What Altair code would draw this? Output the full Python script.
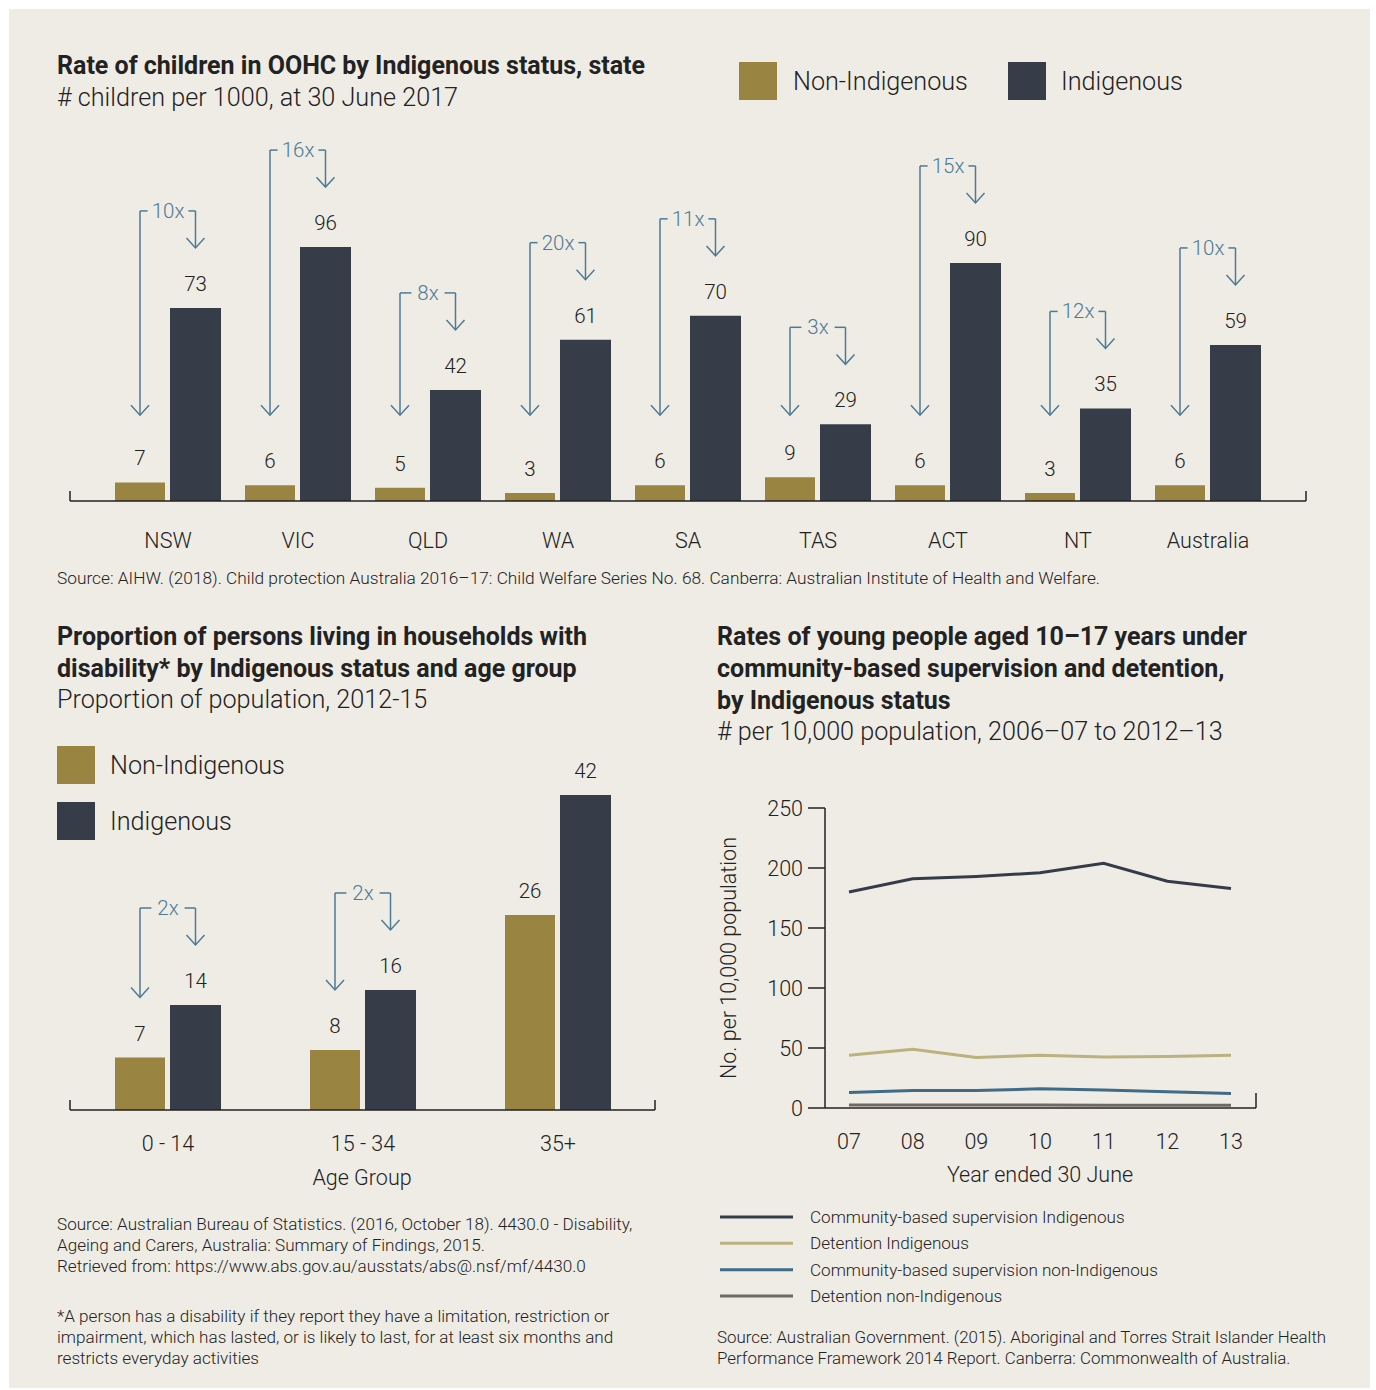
import altair as alt
import pandas as pd

# ------------------------------------------------------------------ data
STATES = ["NSW", "VIC", "QLD", "WA", "SA", "TAS", "ACT", "NT", "Australia"]
OOHC_NON_INDIGENOUS = [7, 6, 5, 3, 6, 9, 6, 3, 6]
OOHC_INDIGENOUS = [73, 96, 42, 61, 70, 29, 90, 35, 59]
OOHC_RATIO = ["10x", "16x", "8x", "20x", "11x", "3x", "15x", "12x", "10x"]

AGE_GROUPS = ["0 - 14", "15 - 34", "35+"]
DIS_NON_INDIGENOUS = [7, 8, 26]
DIS_INDIGENOUS = [14, 16, 42]
DIS_RATIO = ["2x", "2x", ""]

YEARS = [2007, 2008, 2009, 2010, 2011, 2012, 2013]
YEAR_LABELS = ["07", "08", "09", "10", "11", "12", "13"]
LINE_SERIES = [
    "Community-based supervision Indigenous",
    "Detention Indigenous",
    "Community-based supervision non-Indigenous",
    "Detention non-Indigenous",
]
CBS_INDIGENOUS = [180, 191, 193, 196, 204, 189, 183]
DET_INDIGENOUS = [44, 49, 42, 44, 42.5, 43, 44]
CBS_NON_INDIGENOUS = [13, 14.5, 14.5, 16, 15, 13.5, 12]
DET_NON_INDIGENOUS = [2.5, 2.5, 2.4, 2.4, 2.3, 2.3, 2.3]
Y_TICKS = [0, 50, 100, 150, 200, 250]

SERIES = ["Non-Indigenous", "Indigenous"]

# ------------------------------------------------------------------ style
BG = "#efece5"
GOLD = "#9a8441"
DARK = "#363d49"
BLUE = "#4d7b95"
INK = "#222222"
LINE_COLORS = ["#343c4a", "#bcb27f", "#3f6b87", "#6e6961"]
FONT = "Roboto"
ONE = pd.DataFrame({"k": [0]})

T_SIZE = 25      # bold titles
S_SIZE = 25.2    # subtitles / legends
B_SIZE = 21.5    # axis labels
N_SIZE = 17.1    # notes / sources


def text(s, x, y, size, weight=300, color=INK, align="left",
         baseline="alphabetic", angle=None, line_height=None):
    kw = dict(text=s, fontSize=size, fontWeight=weight, color=color,
              align=align, baseline=baseline, font=FONT)
    if line_height is not None:
        kw["lineHeight"] = line_height
    if angle is not None:
        kw["angle"] = angle
    return alt.Chart(ONE).mark_text(**kw).encode(x=alt.value(x), y=alt.value(y))


def square(x, y, color, s=38):
    return alt.Chart(ONE).mark_rect(color=color).encode(
        x=alt.value(x), x2=alt.value(x + s), y=alt.value(y), y2=alt.value(y + s))


def bar_panel(cats, non, ind, ratios, x0, x1, c0, step, base_px, k, y_max,
              label_y, left_tip_fixed=None):
    n = len(cats)
    xdom = [-(c0 - x0) / step, (n - 1) + (x1 - (c0 + (n - 1) * step)) / step]
    xs = alt.Scale(domain=xdom, range=[x0, x1], nice=False, zero=False)
    ys = alt.Scale(domain=[0, y_max], range=[base_px, base_px - y_max * k],
                   nice=False, zero=False)

    def u(px):
        return px / step

    def v(px):
        return px / k

    rows = []
    for i, (c, a, b) in enumerate(zip(cats, non, ind)):
        rows.append(dict(cat=c, series=SERIES[0], x=i + u(-53), x2=i + u(-3),
                         xc=i + u(-28), val=a, zero=0))
        rows.append(dict(cat=c, series=SERIES[1], x=i + u(2), x2=i + u(53),
                         xc=i + u(27.5), val=b, zero=0))
    bdf = pd.DataFrame(rows)

    X = lambda f: alt.X(f, scale=xs, axis=None)
    Y = lambda f: alt.Y(f, scale=ys, axis=None)

    bars = alt.Chart(bdf).mark_rect().encode(
        x=X("x:Q"), x2="x2", y=Y("val:Q"), y2="zero",
        color=alt.Color("series:N", scale=alt.Scale(domain=SERIES, range=[GOLD, DARK]),
                        legend=None))
    vals = alt.Chart(bdf).mark_text(fontSize=20.5, fontWeight=300, font=FONT, color=INK,
                                    baseline="alphabetic", dy=-17).encode(
        x=X("xc:Q"), y=Y("val:Q"), text="val:Q")

    vl, hs, tips, labs = [], [], [], []
    for i, (a, b, r) in enumerate(zip(non, ind, ratios)):
        if not r:
            continue
        xl, xr = i + u(-28), i + u(27.5)
        rt = b + v(60)
        top = rt + v(37)
        lt = left_tip_fixed if left_tip_fixed is not None else a + v(60)
        gap = u(9 + 3.8 * len(r))
        vl += [dict(x=xl, y=top, y2=lt), dict(x=xr, y=top, y2=rt)]
        hs += [dict(x=xl, x2=i - gap, y=top), dict(x=i + gap, x2=xr, y=top)]
        tips += [dict(x=xl, y=lt), dict(x=xr, y=rt)]
        labs.append(dict(x=i, y=top, t=r))

    vrule = alt.Chart(pd.DataFrame(vl)).mark_rule(color=BLUE, strokeWidth=1.5).encode(
        x=X("x:Q"), y=Y("y:Q"), y2="y2")
    hrule = alt.Chart(pd.DataFrame(hs)).mark_rule(color=BLUE, strokeWidth=1.5).encode(
        x=X("x:Q"), x2="x2", y=Y("y:Q"))
    heads = alt.Chart(pd.DataFrame(tips)).mark_point(
        shape="M -1 -1.1 L 0 0 L 1 -1.1", size=324, filled=False, color=BLUE,
        strokeWidth=1.5, opacity=1).encode(x=X("x:Q"), y=Y("y:Q"))
    rlab = alt.Chart(pd.DataFrame(labs)).mark_text(
        fontSize=20.5, fontWeight=300, font=FONT, color=BLUE, baseline="alphabetic",
        dy=7).encode(x=X("x:Q"), y=Y("y:Q"), text="t:N")

    adf = pd.DataFrame({"x": [xdom[0]], "x2": [xdom[1]], "y": [0]})
    axis = alt.Chart(adf).mark_rule(color=INK, strokeWidth=1.5).encode(
        x=X("x:Q"), x2="x2", y=Y("y:Q"))
    edf = pd.DataFrame({"x": xdom, "y": [0, 0], "y2": [v(10), v(10)]})
    ends = alt.Chart(edf).mark_rule(color=INK, strokeWidth=1.5).encode(
        x=X("x:Q"), y=Y("y:Q"), y2="y2")
    cdf = pd.DataFrame({"cat": cats, "i": list(range(n))})
    clab = alt.Chart(cdf).mark_text(fontSize=B_SIZE, fontWeight=300, font=FONT, color=INK,
                                    baseline="alphabetic").encode(
        x=X("i:Q"), y=alt.value(label_y), text="cat:N")

    return alt.layer(bars, vals, vrule, hrule, heads, rlab, axis, ends, clab)


top_panel = bar_panel(STATES, OOHC_NON_INDIGENOUS, OOHC_INDIGENOUS, OOHC_RATIO,
                      70, 1306, 168, 130, 501, 2.645, 140, 547.6,
                      left_tip_fixed=max(OOHC_NON_INDIGENOUS) + 62 / 2.645)
age_panel = bar_panel(AGE_GROUPS, DIS_NON_INDIGENOUS, DIS_INDIGENOUS, DIS_RATIO,
                      70, 655, 168, 195, 1110, 7.5, 50, 1150.6)

# ------------------------------------------------------------------ line panel
LX_DOM = [2007 - 24 / 63.67, 2013 + 25 / 63.67]
lx = alt.Scale(domain=LX_DOM, range=[825, 1256], nice=False, zero=False)
ly = alt.Scale(domain=[0, 250], range=[1108, 808], nice=False, zero=False)
line_color = alt.Scale(domain=LINE_SERIES, range=LINE_COLORS)

long_rows = []
for s, vals in zip(LINE_SERIES, [CBS_INDIGENOUS, DET_INDIGENOUS, CBS_NON_INDIGENOUS,
                                 DET_NON_INDIGENOUS]):
    for yr, val in zip(YEARS, vals):
        long_rows.append(dict(year=yr, value=val, series=s))
ldf = pd.DataFrame(long_rows)

lines = alt.Chart(ldf).mark_line(strokeWidth=3).encode(
    x=alt.X("year:Q", scale=lx, axis=None),
    y=alt.Y("value:Q", scale=ly, axis=None),
    color=alt.Color("series:N", scale=line_color, legend=None),
    detail="series:N")
yaxis = alt.Chart(pd.DataFrame({"x": [LX_DOM[0]], "y": [0], "y2": [250]})).mark_rule(
    color=INK, strokeWidth=1.5).encode(
    x=alt.X("x:Q", scale=lx, axis=None), y=alt.Y("y:Q", scale=ly, axis=None), y2="y2")
xaxis = alt.Chart(pd.DataFrame({"x": [LX_DOM[0]], "x2": [LX_DOM[1]], "y": [0]})).mark_rule(
    color=INK, strokeWidth=1.5).encode(
    x=alt.X("x:Q", scale=lx, axis=None), x2="x2", y=alt.Y("y:Q", scale=ly, axis=None))
xend = alt.Chart(pd.DataFrame({"x": [LX_DOM[1]], "y": [0], "y2": [12.5]})).mark_rule(
    color=INK, strokeWidth=1.5).encode(
    x=alt.X("x:Q", scale=lx, axis=None), y=alt.Y("y:Q", scale=ly, axis=None), y2="y2")
tdf = pd.DataFrame({"t": Y_TICKS})
yticks = alt.Chart(tdf).mark_rule(color=INK, strokeWidth=1.5).encode(
    x=alt.value(808), x2=alt.value(825), y=alt.Y("t:Q", scale=ly, axis=None))
ylabs = alt.Chart(tdf).mark_text(fontSize=B_SIZE, fontWeight=300, font=FONT, color=INK,
                                 align="right", baseline="alphabetic", dy=7.6).encode(
    x=alt.value(803), y=alt.Y("t:Q", scale=ly, axis=None), text="t:Q")
xdf = pd.DataFrame({"year": YEARS, "lab": YEAR_LABELS})
xlabs = alt.Chart(xdf).mark_text(fontSize=B_SIZE, fontWeight=300, font=FONT, color=INK,
                                 baseline="alphabetic").encode(
    x=alt.X("year:Q", scale=lx, axis=None), y=alt.value(1148.6), text="lab:N")
line_panel = alt.layer(lines, yaxis, xaxis, xend, yticks, ylabs, xlabs)

legdf = pd.DataFrame({"series": LINE_SERIES, "i": list(range(len(LINE_SERIES)))})
leg_y = alt.Scale(domain=[0, 3], range=[1217, 1296], nice=False, zero=False)
leg_lines = alt.Chart(legdf).mark_rule(strokeWidth=3).encode(
    x=alt.value(720), x2=alt.value(793),
    y=alt.Y("i:Q", scale=leg_y, axis=None),
    color=alt.Color("series:N", scale=line_color, legend=None))
leg_text = alt.Chart(legdf).mark_text(fontSize=N_SIZE, fontWeight=300, font=FONT, color=INK,
                                      align="left", baseline="alphabetic", dy=6).encode(
    x=alt.value(810), y=alt.Y("i:Q", scale=leg_y, axis=None), text="series:N")
line_legend = alt.layer(leg_lines, leg_text)

# ------------------------------------------------------------------ frame & text
panel_bg = alt.Chart(ONE).mark_rect(color=BG).encode(
    x=alt.value(9), x2=alt.value(1370), y=alt.value(9), y2=alt.value(1388))

texts = [
    text("Rate of children in OOHC by Indigenous status, state", 57, 74, T_SIZE, weight="bold"),
    text("# children per 1000, at 30 June 2017", 57, 106, S_SIZE),
    square(739, 62, GOLD), text("Non-Indigenous", 793, 90, S_SIZE),
    square(1008, 62, DARK), text("Indigenous", 1061, 90, S_SIZE),
    text("Source: AIHW. (2018). Child protection Australia 2016\u201317: Child Welfare Series No. 68. "
         "Canberra: Australian Institute of Health and Welfare.", 57, 584, 17.3),
    text(["Proportion of persons living in households with",
          "disability* by Indigenous status and age group"], 57, 645, T_SIZE, weight="bold",
         line_height=32),
    text("Proportion of population, 2012-15", 57, 708, S_SIZE),
    square(57, 746, GOLD), text("Non-Indigenous", 110, 774, S_SIZE),
    square(57, 802, DARK), text("Indigenous", 110, 830, S_SIZE),
    text("Age Group", 362, 1184.6, B_SIZE, align="center"),
    text(["Source: Australian Bureau of Statistics. (2016, October 18). 4430.0 - Disability,",
          "Ageing and Carers, Australia: Summary of Findings, 2015.",
          "Retrieved from: https://www.abs.gov.au/ausstats/abs@.nsf/mf/4430.0"],
         57, 1230, N_SIZE, line_height=21),
    text(["*A person has a disability if they report they have a limitation, restriction or",
          "impairment, which has lasted, or is likely to last, for at least six months and",
          "restricts everyday activities"], 57, 1322, N_SIZE, line_height=21),
    text(["Rates of young people aged 10\u201317 years under",
          "community-based supervision and detention,",
          "by Indigenous status"], 717, 645, T_SIZE, weight="bold", line_height=32),
    text("# per 10,000 population, 2006\u201307 to 2012\u201313", 717, 740, S_SIZE),
    text("No. per 10,000 population", 730, 958, B_SIZE, align="center", baseline="middle",
         angle=270),
    text("Year ended 30 June", 1040, 1181.6, B_SIZE, align="center"),
    text(["Source: Australian Government. (2015). Aboriginal and Torres Strait Islander Health",
          "Performance Framework 2014 Report. Canberra: Commonwealth of Australia."],
         717, 1343, 16.9, line_height=21),
]

chart = alt.layer(
    panel_bg, *texts, top_panel, age_panel, line_panel, line_legend
).resolve_scale(
    x="independent", y="independent", color="independent"
).properties(
    width=1376, height=1390, background="white", padding=0,
    autosize=alt.AutoSizeParams(type="none"),
).configure_view(stroke=None)

chart.save("out.html", embed_options={"renderer": "svg", "actions": False})
